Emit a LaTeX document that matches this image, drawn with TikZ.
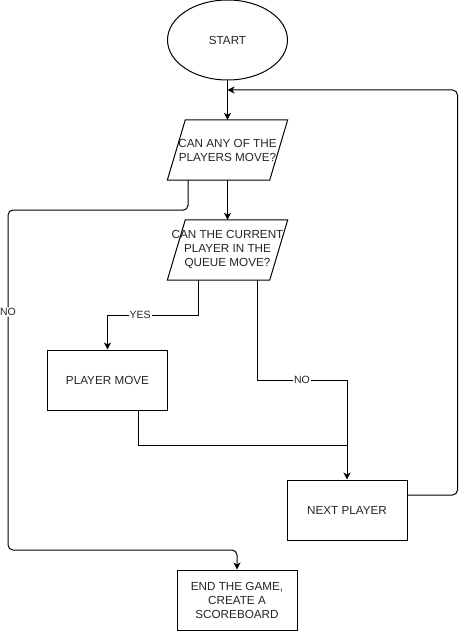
\documentclass[tikz,border=0pt]{standalone}
\usepackage{fontspec}
\setmainfont{Liberation Sans}
\usetikzlibrary{shapes.geometric,arrows.meta}
\begin{document}
\begin{tikzpicture}[x=1pt,y=-1pt,
  every node/.style={font=\fontsize{11.7}{14}\selectfont, text=black!85},
  box/.style={draw, line width=1pt, minimum width=120pt, minimum height=60pt, inner sep=0pt, align=center},
  para/.style={minimum width=120pt, minimum height=60pt, inner sep=0pt, align=center},
  conn/.style={line width=1pt},
  arr/.style={conn, -{Stealth[length=7pt,width=7pt,inset=2pt]}},
  lbl/.style={fill=white, inner sep=1pt, font=\fontsize{10.5}{12}\selectfont}
]
\useasboundingbox (0,0) rectangle (466,631);

\node[draw, ellipse, minimum width=120pt, minimum height=80pt, inner sep=0pt, line width=1pt] (start) at (227.5,40) {START};

\node[para] (q1) at (227.5,150) {CAN ANY OF THE\\PLAYERS MOVE?};
\draw[conn] ([xshift=18pt]q1.north west) -- (q1.north east) -- ([xshift=-18pt]q1.south east) -- (q1.south west) -- cycle;

\node[para] (q2) at (227.5,250) {CAN THE CURRENT\\PLAYER IN THE\\QUEUE MOVE?};
\draw[conn] ([xshift=18pt]q2.north west) -- (q2.north east) -- ([xshift=-18pt]q2.south east) -- (q2.south west) -- cycle;

\node[box] (move) at (107.5,380) {PLAYER MOVE};
\node[box] (next) at (347,510) {NEXT PLAYER};
\node[box] (end) at (237,600) {END THE GAME,\\CREATE A\\SCOREBOARD};

\coordinate (join) at (227.5,90);
\coordinate (merge) at (347,445);

\draw[arr] (start.south) -- (q1.north);
\draw[arr, rounded corners=5pt] ([yshift=15pt]next.east) -- ++(50,0) |- (join);
\draw[arr] (q1.south) -- (q2.north);
\draw[arr, rounded corners=5pt] ([xshift=-39.5pt]q1.south) -- ++(0,30) -- (8,210) -- node[lbl,pos=0.3]{NO} (8,550) -| (end.north);
\draw[arr] ([xshift=-29.5pt]q2.south) -- ++(0,35) -| node[lbl,pos=0.32]{YES} (move.north);
\draw[arr] ([xshift=29.5pt]q2.south) -- ++(0,100) -| node[lbl,pos=0.25]{NO} (next.north);
\draw[conn] ([xshift=30.5pt]move.south) |- (merge);
\end{tikzpicture}
\end{document}
